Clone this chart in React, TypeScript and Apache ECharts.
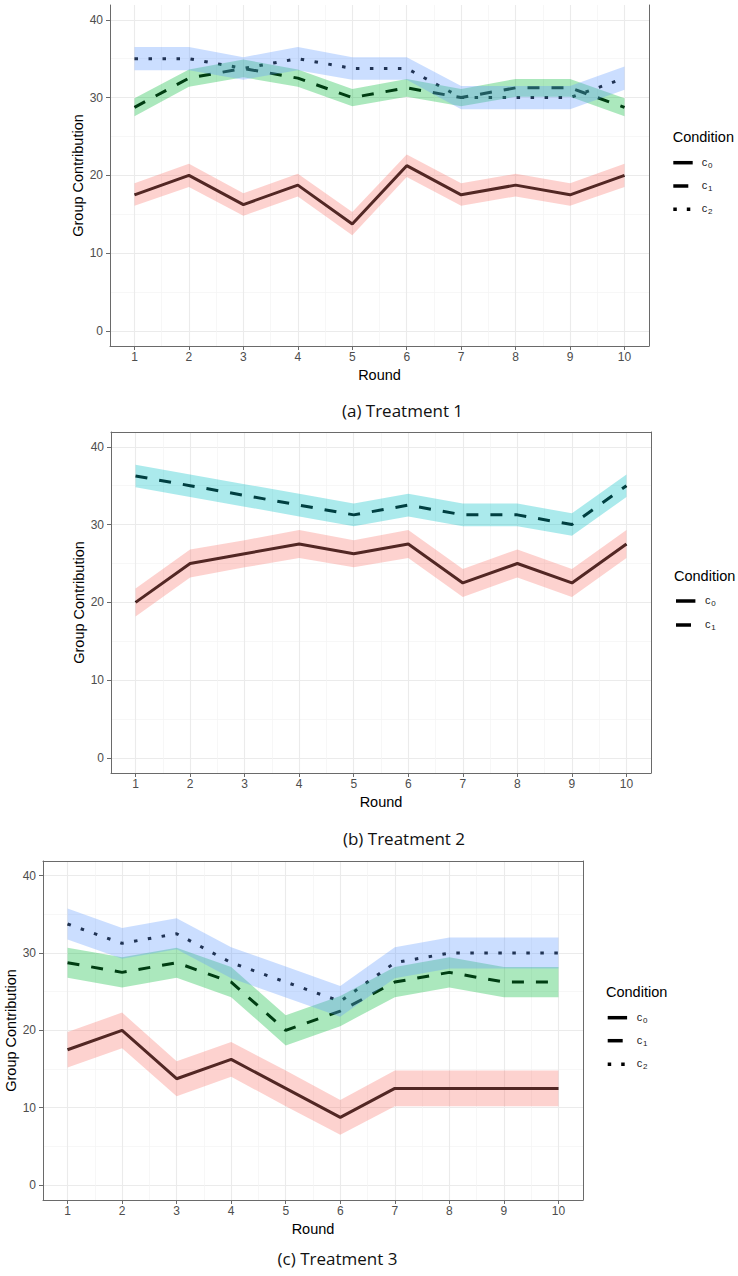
import React, { useEffect, useRef } from "react";
import * as echarts from "echarts";

// ---------- data ----------
const rounds = [1, 2, 3, 4, 5, 6, 7, 8, 9, 10];
const xMinorTicks = [1.5, 2.5, 3.5, 4.5, 5.5, 6.5, 7.5, 8.5, 9.5];
const yMajorTicks = [0, 10, 20, 30, 40];
const yMinorTicks = [5, 15, 25, 35];
const captions = ["(a) Treatment 1", "(b) Treatment 2", "(c) Treatment 3"];
const legendTitle = "Condition";
const conditionSubs = ["0", "1", "2"];

// Treatment 1
const t1c0Mean = [17.5, 20, 16.25, 18.75, 13.75, 21.25, 17.5, 18.75, 17.5, 20];
const t1c0Lo = [16.1, 18.5, 14.8, 17.3, 12.3, 19.8, 16.1, 17.3, 16.1, 18.5];
const t1c0Hi = [19.0, 21.5, 17.7, 20.2, 15.3, 22.7, 19.0, 20.2, 19.0, 21.5];
const t1c1Mean = [28.75, 32.5, 33.75, 32.5, 30, 31.25, 30, 31.25, 31.25, 28.75];
const t1c1Lo = [27.6, 31.4, 32.6, 31.4, 28.9, 30.1, 28.9, 30.1, 30.1, 27.6];
const t1c1Hi = [29.9, 33.6, 34.9, 33.6, 31.1, 32.4, 31.1, 32.4, 32.4, 29.9];
const t1c2Mean = [35, 35, 33.75, 35, 33.75, 33.75, 30, 30, 30, 32.5];
const t1c2Lo = [33.5, 33.5, 32.3, 33.5, 32.3, 32.3, 28.5, 28.5, 28.5, 31.0];
const t1c2Hi = [36.5, 36.5, 35.2, 36.5, 35.2, 35.2, 31.5, 31.5, 31.5, 34.0];

// Treatment 2
const t2c0Mean = [20, 25, 26.25, 27.5, 26.25, 27.5, 22.5, 25, 22.5, 27.5];
const t2c0Lo = [18.2, 23.2, 24.5, 25.7, 24.5, 25.7, 20.7, 23.2, 20.7, 25.7];
const t2c0Hi = [21.8, 26.8, 28.0, 29.3, 28.0, 29.3, 24.3, 26.8, 24.3, 29.3];
const t2c1Mean = [36.25, 35, 33.75, 32.5, 31.25, 32.5, 31.25, 31.25, 30, 35];
const t2c1Lo = [34.8, 33.55, 32.3, 31.05, 29.8, 31.05, 29.8, 29.8, 28.55, 33.55];
const t2c1Hi = [37.7, 36.45, 35.2, 33.95, 32.7, 33.95, 32.7, 32.7, 31.45, 36.45];

// Treatment 3
const t3c0Mean = [17.5, 20, 13.75, 16.25, 12.5, 8.75, 12.5, 12.5, 12.5, 12.5];
const t3c0Lo = [15.2, 17.7, 11.5, 14.0, 10.2, 6.5, 10.2, 10.2, 10.2, 10.2];
const t3c0Hi = [19.8, 22.3, 16.0, 18.5, 14.8, 11.0, 14.8, 14.8, 14.8, 14.8];
const t3c1Mean = [28.75, 27.5, 28.75, 26.25, 20, 22.5, 26.25, 27.5, 26.25, 26.25];
const t3c1Lo = [26.8, 25.55, 26.8, 24.3, 18.05, 20.55, 24.3, 25.55, 24.3, 24.3];
const t3c1Hi = [30.7, 29.45, 30.7, 28.2, 21.95, 24.45, 28.2, 29.45, 28.2, 28.2];
const t3c2Mean = [33.75, 31.25, 32.5, 28.75, 26.25, 23.75, 28.75, 30, 30, 30];
const t3c2Lo = [31.75, 29.25, 30.5, 26.75, 24.25, 21.75, 26.75, 28, 28, 28];
const t3c2Hi = [35.75, 33.25, 34.5, 30.75, 28.25, 25.75, 30.75, 32, 32, 32];

// ---------- styles / layout ----------
const FONT = "'Liberation Sans', Arial, sans-serif";
const CAPTION_FONT = "'Open Sans', 'Noto Sans', sans-serif";
const RED3 = "rgba(248,118,109,0.33)";
const GREEN3 = "rgba(0,186,56,0.33)";
const BLUE3 = "rgba(97,156,255,0.33)";
const RED2 = "rgba(248,118,109,0.33)";
const CYAN2 = "rgba(0,191,196,0.33)";
const DASHES: any[] = ["solid", [12, 12], [3.5, 10.5]];
const LEG_DASH: any[] = [null, [15, 10], [3.5, 10]];

const panels = [
  {
    grid: { left: 110, top: 5, width: 539, height: 341 },
    topBorder: false,
    conds: [
      { mean: t1c0Mean, lo: t1c0Lo, hi: t1c0Hi, fill: RED3 },
      { mean: t1c1Mean, lo: t1c1Lo, hi: t1c1Hi, fill: GREEN3 },
      { mean: t1c2Mean, lo: t1c2Lo, hi: t1c2Hi, fill: BLUE3 },
    ],
    legend: { x: 672.7, titleY: 136.7, itemY: [162.7, 186, 209.3], symX: 673.3, textX: 701.7 },
    caption: { x: 402.5, y: 410 },
  },
  {
    grid: { left: 111, top: 432, width: 540, height: 341 },
    topBorder: true,
    conds: [
      { mean: t2c0Mean, lo: t2c0Lo, hi: t2c0Hi, fill: RED2 },
      { mean: t2c1Mean, lo: t2c1Lo, hi: t2c1Hi, fill: CYAN2 },
    ],
    legend: { x: 674, titleY: 576, itemY: [601, 625], symX: 676, textX: 705 },
    caption: { x: 404, y: 838 },
  },
  {
    grid: { left: 43, top: 861, width: 540, height: 339 },
    topBorder: true,
    conds: [
      { mean: t3c0Mean, lo: t3c0Lo, hi: t3c0Hi, fill: RED3 },
      { mean: t3c1Mean, lo: t3c1Lo, hi: t3c1Hi, fill: GREEN3 },
      { mean: t3c2Mean, lo: t3c2Lo, hi: t3c2Hi, fill: BLUE3 },
    ],
    legend: { x: 606, titleY: 991.7, itemY: [1017.7, 1040.7, 1064.3], symX: 607.7, textX: 636.7 },
    caption: { x: 337.5, y: 1258 },
  },
];

const BORDER = "#6a6a6a";
const MAJOR = "#EBEBEB";
const MINOR = "#F3F3F3";

function buildOption() {
  const grid: any[] = [];
  const xAxis: any[] = [];
  const yAxis: any[] = [];
  const series: any[] = [];
  const graphic: any[] = [];

  panels.forEach((p, pi) => {
    grid.push({ ...p.grid, containLabel: false, outerBoundsMode: "none" });
    xAxis.push({
      gridIndex: pi,
      type: "value",
      min: 0.55,
      max: 10.45,
      position: "bottom",
      axisLine: { show: true, onZero: false, lineStyle: { color: BORDER, width: 1 } },
      axisTick: { show: true, length: 4, customValues: rounds, lineStyle: { color: BORDER } },
      axisLabel: { customValues: rounds, fontSize: 12, color: "#4d4d4d", margin: 5, fontFamily: FONT },
      splitLine: { show: true, lineStyle: { color: MAJOR, width: 1.1 } },
      name: "Round",
      nameLocation: "middle",
      nameGap: 21,
      nameMoveOverlap: false,
      nameTextStyle: { fontSize: 14.5, color: "#000", fontFamily: FONT },
    });
    xAxis.push({
      gridIndex: pi,
      type: "value",
      min: 0.55,
      max: 10.45,
      position: "top",
      axisLine: { show: p.topBorder, onZero: false, lineStyle: { color: BORDER, width: 1 } },
      axisTick: { show: false, customValues: xMinorTicks },
      axisLabel: { show: false, customValues: xMinorTicks },
      splitLine: { show: true, lineStyle: { color: MINOR, width: 0.7 } },
    });
    yAxis.push({
      gridIndex: pi,
      type: "value",
      min: -1.93,
      max: 41.9,
      position: "left",
      axisLine: { show: true, onZero: false, lineStyle: { color: BORDER, width: 1 } },
      axisTick: { show: true, length: 4, customValues: yMajorTicks, lineStyle: { color: BORDER } },
      axisLabel: { customValues: yMajorTicks, fontSize: 12, color: "#4d4d4d", margin: 7, fontFamily: FONT },
      splitLine: { show: true, lineStyle: { color: MAJOR, width: 1.1 } },
      name: "Group Contribution",
      nameLocation: "middle",
      nameGap: 25,
      nameMoveOverlap: false,
      nameTextStyle: { fontSize: 14.5, color: "#000", fontFamily: FONT },
    });
    yAxis.push({
      gridIndex: pi,
      type: "value",
      min: -1.93,
      max: 41.9,
      position: "right",
      axisLine: { show: true, onZero: false, lineStyle: { color: BORDER, width: 1 } },
      axisTick: { show: false, customValues: yMinorTicks },
      axisLabel: { show: false, customValues: yMinorTicks },
      splitLine: { show: true, lineStyle: { color: MINOR, width: 0.7 } },
    });

    const xi = pi * 2;
    const yi = pi * 2;
    p.conds.forEach((c, ci) => {
      series.push({
        type: "line",
        name: `p${pi}c${ci}`,
        xAxisIndex: xi,
        yAxisIndex: yi,
        data: rounds.map((r, i) => [r, c.mean[i]]),
        symbol: "none",
        lineStyle: { color: "#000", width: 3, type: DASHES[ci], cap: "butt" },
        z: 2,
        silent: true,
      });
    });
    p.conds.forEach((c, ci) => {
      series.push({
        type: "custom",
        xAxisIndex: xi,
        yAxisIndex: yi,
        data: rounds.map((r, i) => [r, c.lo[i], c.hi[i]]),
        encode: { x: 0, y: [1, 2] },
        z: 3 + ci,
        silent: true,
        renderItem: (params: any, api: any) => {
          if (params.dataIndex !== 0) return null;
          const upper = rounds.map((r, i) => api.coord([r, c.hi[i]]));
          const lower = rounds.map((r, i) => api.coord([r, c.lo[i]])).reverse();
          return {
            type: "polygon",
            shape: { points: upper.concat(lower) },
            style: { fill: c.fill, stroke: "none" },
          };
        },
      });
    });

    const L = p.legend;
    graphic.push({
      type: "text",
      x: L.x,
      y: L.titleY,
      style: { text: legendTitle, fontSize: 14.5, fontFamily: FONT, fill: "#000", textVerticalAlign: "middle" },
    });
    p.conds.forEach((c, ci) => {
      const y = L.itemY[ci];
      graphic.push({
        type: "line",
        shape: { x1: L.symX, y1: y, x2: L.symX + 19.4, y2: y },
        style: { stroke: "#000", lineWidth: 3.5, lineDash: LEG_DASH[ci] || undefined, lineCap: "butt" },
      });
      graphic.push({
        type: "text",
        x: L.textX,
        y: y - 1,
        style: { text: "c", fontSize: 11, fontFamily: FONT, fill: "#222", textVerticalAlign: "middle" },
      });
      graphic.push({
        type: "text",
        x: L.textX + 6.2,
        y: y + 2.6,
        style: { text: conditionSubs[ci], fontSize: 8, fontFamily: FONT, fill: "#222", textVerticalAlign: "middle" },
      });
    });

    graphic.push({
      type: "text",
      x: p.caption.x,
      y: p.caption.y,
      style: {
        text: captions[pi],
        fontSize: 17,
        fontFamily: CAPTION_FONT,
        fill: "#111",
        textAlign: "center",
        textVerticalAlign: "middle",
      },
    });
  });

  return {
    animation: false,
    backgroundColor: "#fff",
    textStyle: { fontFamily: FONT },
    grid,
    xAxis,
    yAxis,
    series,
    graphic,
  };
}

export default function App() {
  const ref = useRef<HTMLDivElement>(null);
  useEffect(() => {
    if (!ref.current) return;
    const chart = echarts.init(ref.current, null, { renderer: "svg" });
    chart.setOption(buildOption() as any);
    return () => chart.dispose();
  }, []);
  return (
    <div
      ref={ref}
      style={{ position: "absolute", left: 0, top: 0, width: 738, height: 1276, background: "#fff" }}
    />
  );
}
